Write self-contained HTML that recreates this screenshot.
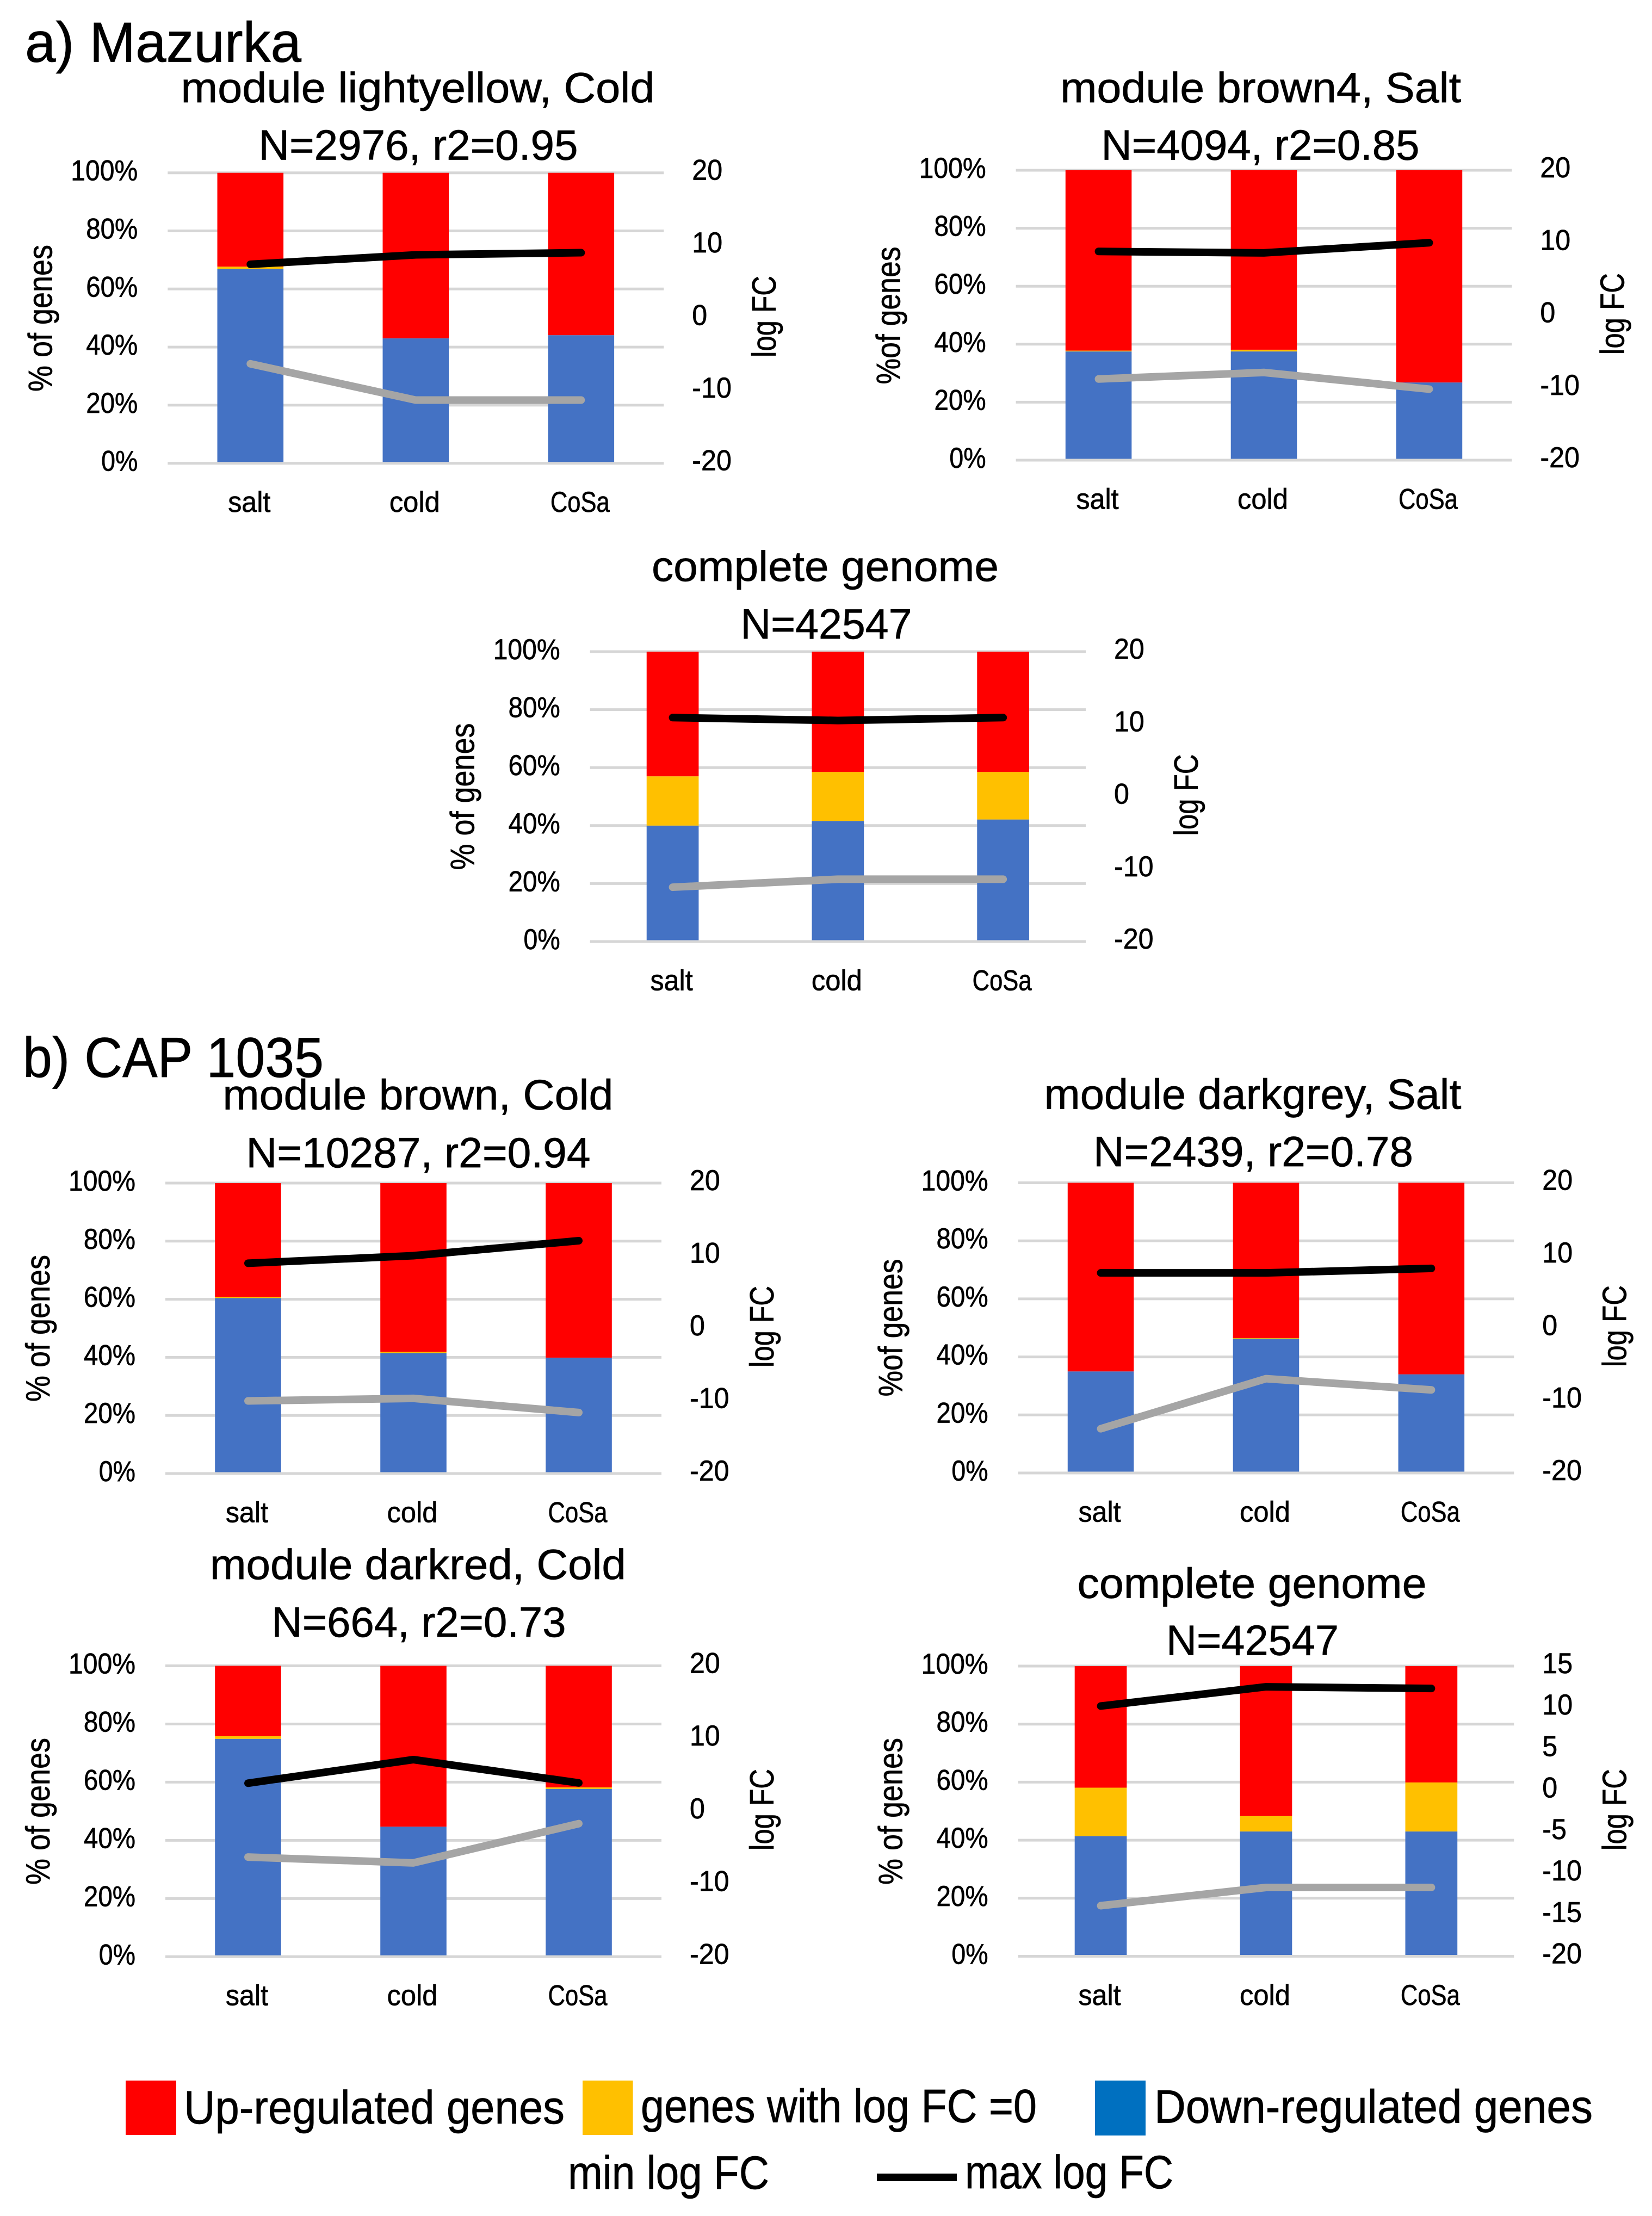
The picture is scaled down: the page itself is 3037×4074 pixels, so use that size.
<!DOCTYPE html>
<html lang="en">
<head>
<meta charset="utf-8">
<title>Gene regulation by co-expression module</title>
<style>
  html, body { margin: 0; padding: 0; background: #fff; }
  svg { display: block; }
  text { font-family: "Liberation Sans", sans-serif; fill: #000; stroke: #000; stroke-width: .7px; }
</style>
</head>
<body>
<svg id="figure" xmlns="http://www.w3.org/2000/svg" width="3037" height="4074" viewBox="0 0 3037 4074">
  <rect x="0" y="0" width="3037" height="4074" fill="#fff"/>

  <text x="46" y="113.5" font-size="104" textLength="508" lengthAdjust="spacingAndGlyphs">a) Mazurka</text>
  <text x="42" y="1980" font-size="104" textLength="553" lengthAdjust="spacingAndGlyphs">b) CAP 1035</text>

  <g id="chart-lightyellow">
    <text x="768" y="188" font-size="78" text-anchor="middle" textLength="871" lengthAdjust="spacingAndGlyphs">module lightyellow, Cold</text>
    <text x="769" y="293.4" font-size="78" text-anchor="middle" textLength="587" lengthAdjust="spacingAndGlyphs">N=2976, r2=0.95</text>
    <text transform="translate(95.5,585) rotate(-90)" font-size="62" text-anchor="middle" textLength="270" lengthAdjust="spacingAndGlyphs">% of genes</text>
    <text transform="translate(1426,582) rotate(-90)" font-size="62" text-anchor="middle" textLength="150" lengthAdjust="spacingAndGlyphs">log FC</text>
  </g>

  <g id="chart-brown4">
    <text x="2317.6" y="188" font-size="78" text-anchor="middle" textLength="737" lengthAdjust="spacingAndGlyphs">module brown4, Salt</text>
    <text x="2317" y="293.4" font-size="78" text-anchor="middle" textLength="585" lengthAdjust="spacingAndGlyphs">N=4094, r2=0.85</text>
    <text transform="translate(1654.6,580) rotate(-90)" font-size="62" text-anchor="middle" textLength="253" lengthAdjust="spacingAndGlyphs">%of genes</text>
    <text transform="translate(2985.4,577) rotate(-90)" font-size="62" text-anchor="middle" textLength="150" lengthAdjust="spacingAndGlyphs">log FC</text>
  </g>

  <g id="chart-genome-a">
    <text x="1517" y="1067.8" font-size="78" text-anchor="middle" textLength="638" lengthAdjust="spacingAndGlyphs">complete genome</text>
    <text x="1519" y="1174" font-size="78" text-anchor="middle" textLength="315" lengthAdjust="spacingAndGlyphs">N=42547</text>
    <text transform="translate(871.7,1464.5) rotate(-90)" font-size="62" text-anchor="middle" textLength="270" lengthAdjust="spacingAndGlyphs">% of genes</text>
    <text transform="translate(2202,1461.5) rotate(-90)" font-size="62" text-anchor="middle" textLength="150" lengthAdjust="spacingAndGlyphs">log FC</text>
  </g>

  <g id="chart-brown">
    <text x="768.4" y="2039.7" font-size="78" text-anchor="middle" textLength="718" lengthAdjust="spacingAndGlyphs">module brown, Cold</text>
    <text x="769" y="2145.8" font-size="78" text-anchor="middle" textLength="633" lengthAdjust="spacingAndGlyphs">N=10287, r2=0.94</text>
    <text transform="translate(91,2442) rotate(-90)" font-size="62" text-anchor="middle" textLength="270" lengthAdjust="spacingAndGlyphs">% of genes</text>
    <text transform="translate(1422,2439) rotate(-90)" font-size="62" text-anchor="middle" textLength="150" lengthAdjust="spacingAndGlyphs">log FC</text>
  </g>

  <g id="chart-darkgrey">
    <text x="2303" y="2038.3" font-size="78" text-anchor="middle" textLength="767" lengthAdjust="spacingAndGlyphs">module darkgrey, Salt</text>
    <text x="2304" y="2144" font-size="78" text-anchor="middle" textLength="588" lengthAdjust="spacingAndGlyphs">N=2439, r2=0.78</text>
    <text transform="translate(1658.6,2441) rotate(-90)" font-size="62" text-anchor="middle" textLength="253" lengthAdjust="spacingAndGlyphs">%of genes</text>
    <text transform="translate(2989.3,2438) rotate(-90)" font-size="62" text-anchor="middle" textLength="150" lengthAdjust="spacingAndGlyphs">log FC</text>
  </g>

  <g id="chart-darkred">
    <text x="768.4" y="2903" font-size="78" text-anchor="middle" textLength="765" lengthAdjust="spacingAndGlyphs">module darkred, Cold</text>
    <text x="770" y="3009" font-size="78" text-anchor="middle" textLength="541" lengthAdjust="spacingAndGlyphs">N=664, r2=0.73</text>
    <text transform="translate(91,3330) rotate(-90)" font-size="62" text-anchor="middle" textLength="270" lengthAdjust="spacingAndGlyphs">% of genes</text>
    <text transform="translate(1422,3327) rotate(-90)" font-size="62" text-anchor="middle" textLength="150" lengthAdjust="spacingAndGlyphs">log FC</text>
  </g>

  <g id="chart-genome-b">
    <text x="2301.5" y="2937.4" font-size="78" text-anchor="middle" textLength="642" lengthAdjust="spacingAndGlyphs">complete genome</text>
    <text x="2302.5" y="3042.4" font-size="78" text-anchor="middle" textLength="317" lengthAdjust="spacingAndGlyphs">N=42547</text>
    <text transform="translate(1658.6,3330) rotate(-90)" font-size="62" text-anchor="middle" textLength="270" lengthAdjust="spacingAndGlyphs">% of genes</text>
    <text transform="translate(2989.3,3327) rotate(-90)" font-size="62" text-anchor="middle" textLength="150" lengthAdjust="spacingAndGlyphs">log FC</text>
  </g>

  <g>
    <rect x="231" y="3825" width="93" height="100" fill="#ff0000"/>
    <text x="338" y="3904" font-size="86" textLength="700" lengthAdjust="spacingAndGlyphs">Up-regulated genes</text>
    <rect x="1071" y="3825" width="92.5" height="100" fill="#ffc000"/>
    <text x="1178" y="3901.5" font-size="86" textLength="728" lengthAdjust="spacingAndGlyphs">genes with log FC =0</text>
    <rect x="2013" y="3825" width="93" height="101" fill="#0070c0"/>
    <text x="2122" y="3902.5" font-size="86" textLength="806" lengthAdjust="spacingAndGlyphs">Down-regulated genes</text>
    <text x="1044" y="4024" font-size="86" textLength="370" lengthAdjust="spacingAndGlyphs">min log FC</text>
    <rect x="1612" y="3996" width="147" height="14" fill="#000"/>
    <text x="1774" y="4023" font-size="86" textLength="383" lengthAdjust="spacingAndGlyphs">max log FC</text>
  </g>
</svg>

<script>
const categories = ['salt', 'cold', 'CoSa'];
const pctTicks = [0, 20, 40, 60, 80, 100];
const fcTicks = [-20, -10, 0, 10, 20];
const fcTicksWide = [-20, -15, -10, -5, 0, 5, 10, 15];

const lightyellowDown = [66.9, 43.0, 44.1];
const lightyellowZero = [0.8, 0, 0];
const lightyellowUp = [32.3, 57.0, 55.9];
const lightyellowMin = [-6.3, -11.3, -11.3];
const lightyellowMax = [7.4, 8.7, 9.0];

const brown4Down = [37.5, 37.5, 26.8];
const brown4Zero = [0.3, 0.6, 0];
const brown4Up = [62.2, 61.9, 73.2];
const brown4Min = [-8.8, -7.9, -10.2];
const brown4Max = [8.8, 8.6, 10.0];

const genomeADown = [40.0, 41.6, 42.1];
const genomeAZero = [17.0, 16.9, 16.4];
const genomeAUp = [43.0, 41.5, 41.5];
const genomeAMin = [-12.5, -11.4, -11.4];
const genomeAMax = [10.9, 10.5, 10.9];

const brownDown = [60.4, 41.5, 39.9];
const brownZero = [0.4, 0.4, 0];
const brownUp = [39.2, 58.1, 60.1];
const brownMin = [-10.0, -9.65, -11.6];
const brownMax = [8.96, 10.0, 12.06];

const darkgreyDown = [35.0, 46.3, 34.0];
const darkgreyZero = [0, 0.2, 0];
const darkgreyUp = [65.0, 53.5, 66.0];
const darkgreyMin = [-13.9, -7.0, -8.55];
const darkgreyMax = [7.58, 7.58, 8.2];

const darkredDown = [74.9, 44.7, 57.7];
const darkredZero = [0.9, 0, 0.5];
const darkredUp = [24.2, 55.3, 41.8];
const darkredMin = [-6.3, -7.1, -1.7];
const darkredMax = [3.86, 7.1, 3.9];

const genomeBDown = [41.4, 43.0, 43.0];
const genomeBZero = [16.7, 5.3, 16.9];
const genomeBUp = [41.9, 51.7, 40.1];
const genomeBMin = [-13.9, -11.7, -11.7];
const genomeBMax = [10.18, 12.5, 12.3];

const SVG_NS = 'http://www.w3.org/2000/svg';
const glyphWidths = { '0': .507, '1': .507, '2': .507, '3': .507, '4': .507, '5': .507, '6': .507, '7': .507, '8': .507, '9': .507,
  '%': .715, '-': .306, s: .391, a: .479, l: .229, t: .335, c: .423, o: .527, d: .525, C: .533, S: .459 };

function fittedWidth(label, size) {
  let w = 0;
  for (const ch of label) w += glyphWidths[ch] || .5;
  return w * size;
}

function makeText(parent, label, x, y, size, anchor, calibriSize) {
  const t = document.createElementNS(SVG_NS, 'text');
  t.setAttribute('x', x);
  t.setAttribute('y', y);
  t.setAttribute('font-size', size);
  t.setAttribute('text-anchor', anchor);
  t.setAttribute('textLength', fittedWidth(label, calibriSize).toFixed(1));
  t.setAttribute('lengthAdjust', 'spacingAndGlyphs');
  t.textContent = label;
  parent.appendChild(t);
  return t;
}

function drawChart(c) {
  const group = document.getElementById(c.id);
  const yPct = v => c.bottom - (v / 100) * (c.bottom - c.top);
  const fcDomainMin = Math.min.apply(null, c.fcAxis);
  const fcDomainMax = Math.max.apply(null, c.fcAxis);
  const yFc = v => c.bottom - ((v - fcDomainMin) / (fcDomainMax - fcDomainMin)) * (c.bottom - c.top);
  const band = (c.right - c.left) / categories.length;
  const xCenter = i => c.left + band * (i + .5);
  const barWidth = band * c.barShare;

  pctTicks.forEach(tick => {
    if (tick === 0) return;
    const line = document.createElementNS(SVG_NS, 'line');
    
    
    line.setAttribute('x1', c.left);
    line.setAttribute('x2', c.right);
    line.setAttribute('y1', yPct(tick));
    line.setAttribute('y2', yPct(tick));
    line.setAttribute('stroke', '#d6d6d6');
    line.setAttribute('stroke-width', 5);
    group.appendChild(line);
  });

  categories.forEach((cat, i) => {
    const stack = [
      { value: c.down[i], color: '#4472c4', name: 'bar-down-regulated' },
      { value: c.zero[i], color: '#ffc000', name: 'bar-zero-change' },
      { value: c.up[i], color: '#ff0000', name: 'bar-up-regulated' }
    ];
    let cumulative = 0;
    stack.forEach(seg => {
      const rect = document.createElementNS(SVG_NS, 'rect');
      
      
      rect.setAttribute('x', xCenter(i) - barWidth / 2);
      rect.setAttribute('width', barWidth);
      rect.setAttribute('y', yPct(cumulative + seg.value));
      rect.setAttribute('height', yPct(cumulative) - yPct(cumulative + seg.value));
      rect.setAttribute('fill', seg.color);
      group.appendChild(rect);
      cumulative += seg.value;
    });
    const catLabel = makeText(group, cat, xCenter(i) - 2, c.bottom + 89.4, 53, 'middle', 54.5);
    
    
  });

  const baseline = document.createElementNS(SVG_NS, 'line');
  
  
  baseline.setAttribute('x1', c.left);
  baseline.setAttribute('x2', c.right);
  baseline.setAttribute('y1', c.bottom);
  baseline.setAttribute('y2', c.bottom);
  baseline.setAttribute('stroke', '#d6d6d6');
  baseline.setAttribute('stroke-width', 5);
  group.appendChild(baseline);

  pctTicks.forEach(tick => {
    const label = makeText(group, tick + '%', c.left - 55, yPct(tick) + 14, 53, 'end', 55);
    
    
  });

  c.fcAxis.forEach(tick => {
    const label = makeText(group, String(tick), c.right + 52, yFc(tick) + 13, 53, 'start', 55);
    
    
  });

  const minLine = document.createElementNS(SVG_NS, 'polyline');
  
  
  minLine.setAttribute('points', c.min.map((v, i) => xCenter(i) + ',' + yFc(v)).join(' '));
  minLine.setAttribute('fill', 'none');
  minLine.setAttribute('stroke', '#a5a5a5');
  minLine.setAttribute('stroke-width', 14);
  minLine.setAttribute('stroke-linecap', 'round');
  minLine.setAttribute('stroke-linejoin', 'round');
  group.appendChild(minLine);

  const maxLine = document.createElementNS(SVG_NS, 'polyline');
  
  
  maxLine.setAttribute('points', c.max.map((v, i) => xCenter(i) + ',' + yFc(v)).join(' '));
  maxLine.setAttribute('fill', 'none');
  maxLine.setAttribute('stroke', '#000');
  maxLine.setAttribute('stroke-width', 14);
  maxLine.setAttribute('stroke-linecap', 'round');
  maxLine.setAttribute('stroke-linejoin', 'round');
  group.appendChild(maxLine);
}

drawChart({ id: 'chart-lightyellow', left: 308.3, right: 1220.3, top: 317.7, bottom: 851.7, barShare: .4, fcAxis: fcTicks,
  down: lightyellowDown, zero: lightyellowZero, up: lightyellowUp, min: lightyellowMin, max: lightyellowMax });
drawChart({ id: 'chart-brown4', left: 1867.6, right: 2779.4, top: 313, bottom: 846, barShare: .4, fcAxis: fcTicks,
  down: brown4Down, zero: brown4Zero, up: brown4Up, min: brown4Min, max: brown4Max });
drawChart({ id: 'chart-genome-a', left: 1084.7, right: 1996, top: 1198, bottom: 1731, barShare: .315, fcAxis: fcTicks,
  down: genomeADown, zero: genomeAZero, up: genomeAUp, min: genomeAMin, max: genomeAMax });
drawChart({ id: 'chart-brown', left: 304, right: 1216, top: 2175, bottom: 2709, barShare: .4, fcAxis: fcTicks,
  down: brownDown, zero: brownZero, up: brownUp, min: brownMin, max: brownMax });
drawChart({ id: 'chart-darkgrey', left: 1871.6, right: 2783.3, top: 2174.5, bottom: 2708, barShare: .4, fcAxis: fcTicks,
  down: darkgreyDown, zero: darkgreyZero, up: darkgreyUp, min: darkgreyMin, max: darkgreyMax });
drawChart({ id: 'chart-darkred', left: 304, right: 1216, top: 3062.5, bottom: 3597.3, barShare: .4, fcAxis: fcTicks,
  down: darkredDown, zero: darkredZero, up: darkredUp, min: darkredMin, max: darkredMax });
drawChart({ id: 'chart-genome-b', left: 1871.6, right: 2783.3, top: 3063, bottom: 3596.5, barShare: .315, fcAxis: fcTicksWide,
  down: genomeBDown, zero: genomeBZero, up: genomeBUp, min: genomeBMin, max: genomeBMax });
</script>
</body>
</html>
